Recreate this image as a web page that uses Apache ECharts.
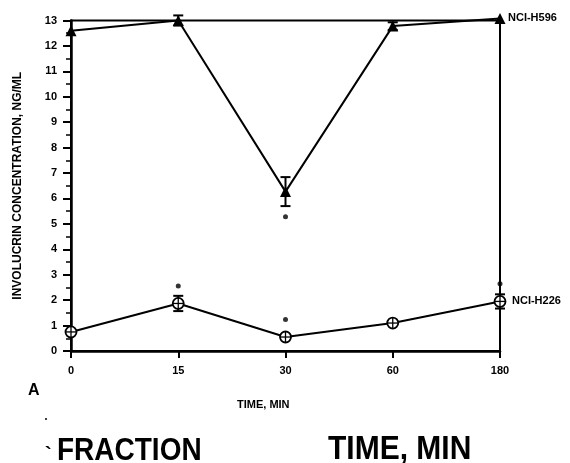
<!DOCTYPE html>
<html>
<head>
<meta charset="utf-8">
<script src="https://cdn.jsdelivr.net/npm/echarts@6/dist/echarts.min.js"></script>
<style>
  html, body { margin: 0; padding: 0; background: #fff; }
  #chart { width: 570px; height: 463px; }
</style>
</head>
<body>
<div id="chart"></div>
<script>
  // values
  const times = ['0', '15', '30', '60', '180'];
  const h596 = [12.6, 13.0, 6.27, 12.78, 13.08];
  const h596Err = [0, 0.2, 0.57, 0.15, 0];
  const h226 = [0.75, 1.87, 0.55, 1.1, 1.95];
  const h226Err = [0.08, 0.3, 0.1, 0.07, 0.28];
  const stars = [[1, 2.56], [2, 5.28], [2, 1.24], [3.95, 2.65]];

  const font = '"Liberation Sans", Arial, sans-serif';

  function errData(vals, errs) {
    return vals.map((v, i) => [i, v - errs[i], v + errs[i]]);
  }

  function renderErr(params, api) {
    let lo = api.coord([api.value(0), api.value(1)]);
    let hi = api.coord([api.value(0), api.value(2)]);
    if (hi[1] === lo[1]) return null;
    let st = { stroke: '#000', lineWidth: 2 };
    return {
      type: 'group',
      children: [
        { type: 'line', shape: { x1: lo[0], y1: lo[1], x2: hi[0], y2: hi[1] }, style: st },
        { type: 'line', shape: { x1: lo[0] - 5, y1: lo[1], x2: lo[0] + 5, y2: lo[1] }, style: st },
        { type: 'line', shape: { x1: hi[0] - 5, y1: hi[1], x2: hi[0] + 5, y2: hi[1] }, style: st }
      ]
    };
  }

  function renderCircle(params, api) {
    let p = api.coord([api.value(0), api.value(1)]);
    let r = 5.5;
    let st = { stroke: '#000', lineWidth: 1.8, fill: '#fff' };
    return {
      type: 'group',
      children: [
        { type: 'circle', shape: { cx: p[0], cy: p[1], r: r }, style: st },
        { type: 'line', shape: { x1: p[0] - r, y1: p[1], x2: p[0] + r, y2: p[1] }, style: { stroke: '#000', lineWidth: 1.3 } },
        { type: 'line', shape: { x1: p[0], y1: p[1] - r, x2: p[0], y2: p[1] + r }, style: { stroke: '#000', lineWidth: 1.3 } }
      ]
    };
  }

  let chart = echarts.init(document.getElementById('chart'));
  chart.setOption({
    animation: false,
    backgroundColor: '#fff',
    grid: {
      left: 71, right: 70, top: 20.5, bottom: 112,
      show: true, borderColor: '#000', borderWidth: 2
    },
    xAxis: {
      type: 'category',
      data: times,
      boundaryGap: false,
      axisLine: { lineStyle: { color: '#000', width: 2.5 } },
      axisTick: { show: true, length: 7, lineStyle: { color: '#000', width: 2 } },
      axisLabel: { color: '#000', fontFamily: font, fontWeight: 'bold', fontSize: 11, margin: 14 },
      splitLine: { show: false }
    },
    yAxis: {
      type: 'value',
      min: 0, max: 13, interval: 1,
      name: 'INVOLUCRIN CONCENTRATION, NG/ML',
      nameLocation: 'middle',
      nameRotate: 90,
      nameGap: 47,
      nameTextStyle: { color: '#000', fontFamily: font, fontWeight: 'bold', fontSize: 12 },
      axisLine: { show: true, lineStyle: { color: '#000', width: 2.5 } },
      axisTick: { show: true, length: 8, lineStyle: { color: '#000', width: 2 } },
      minorTick: { show: true, splitNumber: 2, length: 5, lineStyle: { color: '#000', width: 1.5 } },
      axisLabel: { color: '#000', fontFamily: font, fontWeight: 'bold', fontSize: 11, margin: 14 },
      splitLine: { show: false }
    },
    series: [
      {
        name: 'NCI-H596',
        type: 'line',
        data: h596,
        clip: false,
        symbol: 'triangle',
        symbolSize: 11,
        lineStyle: { color: '#000', width: 2 },
        itemStyle: { color: '#000' },
        endLabel: {
          show: true, formatter: 'NCI-H596', distance: 8,
          color: '#000', fontFamily: font, fontWeight: 'bold', fontSize: 11
        },
        z: 3
      },
      {
        type: 'custom',
        data: errData(h596, h596Err),
        renderItem: renderErr,
        clip: false,
        z: 2
      },
      {
        name: 'NCI-H226',
        type: 'line',
        data: h226,
        symbol: 'none',
        lineStyle: { color: '#000', width: 2 },
        endLabel: {
          show: true, formatter: 'NCI-H226', distance: 12,
          color: '#000', fontFamily: font, fontWeight: 'bold', fontSize: 11
        },
        z: 2
      },
      {
        type: 'custom',
        data: errData(h226, h226Err),
        renderItem: renderErr,
        z: 2
      },
      {
        type: 'custom',
        data: h226.map((v, i) => [i, v]),
        renderItem: renderCircle,
        z: 4
      },
      {
        type: 'scatter',
        data: stars,
        symbol: 'circle',
        symbolSize: 5,
        itemStyle: { color: '#000' },
        z: 4
      }
    ],
    graphic: [
      { type: 'text', left: 28, top: 383, style: { text: 'A', font: 'bold 16px ' + font, fill: '#000' } },
      { type: 'text', left: 237, top: 399, style: { text: 'TIME, MIN', font: 'bold 11px ' + font, fill: '#000' } },
      { type: 'circle', shape: { cx: 46, cy: 419, r: 1 }, style: { fill: '#000' } },
      { type: 'text', x: 45, y: 455, style: { text: '`', font: 'bold 20px ' + font, fill: '#000', verticalAlign: 'middle' } },
      { type: 'text', x: 57, y: 467, scaleY: 1.12, style: { text: 'FRACTION', font: 'bold 28px ' + font, fill: '#000', verticalAlign: 'bottom' } },
      { type: 'text', x: 328, y: 467, scaleY: 1.12, style: { text: 'TIME, MIN', font: 'bold 30px ' + font, fill: '#000', verticalAlign: 'bottom' } }
    ]
  });
</script>
</body>
</html>
